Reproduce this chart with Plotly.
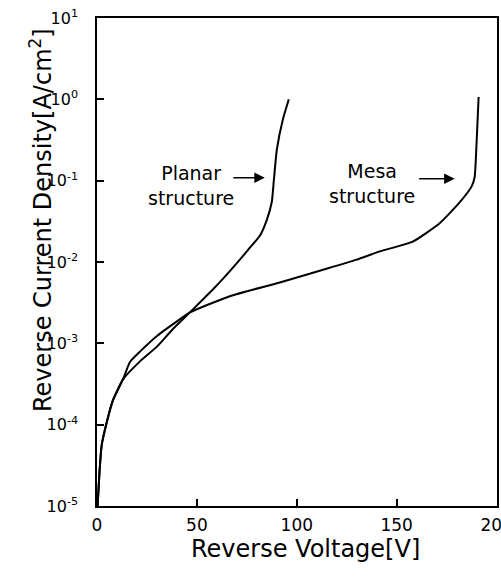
import plotly.graph_objects as go

# Planar structure curve (Reverse Voltage [V], Current density [A/cm^2])
planar_v = [0.3, 1.2, 2.3, 4, 8, 13, 21.5, 30, 38, 46.5, 58, 63, 71.5, 76, 81.5, 85, 87.5, 88.5, 90, 93, 96]
planar_j = [1.0e-5, 2.5e-5, 5.5e-5, 8.7e-5, 2.0e-4, 3.6e-4, 6.0e-4, 9.1e-4, 1.5e-3, 2.4e-3,
            4.6e-3, 6.2e-3, 1.07e-2, 1.45e-2, 2.1e-2, 3.3e-2, 5.5e-2, 1.0e-1, 2.4e-1, 5.6e-1, 1.0]

# Mesa structure curve
mesa_v = [0.3, 1.2, 2.3, 4, 8, 13, 16.5, 21.5, 30, 40, 46.5, 66.5, 91.5, 116.5, 130, 141.5, 158,
          171.5, 181.5, 187.5, 189, 190, 191]
mesa_j = [1.0e-5, 2.5e-5, 5.5e-5, 8.7e-5, 2.0e-4, 3.6e-4, 5.9e-4, 7.9e-4, 1.23e-3, 1.86e-3, 2.4e-3,
          3.8e-3, 5.6e-3, 8.5e-3, 1.07e-2, 1.35e-2, 1.78e-2, 3.0e-2, 5.4e-2, 8.5e-2, 1.1e-1, 3.0e-1, 1.07]

x_ticks = [0, 50, 100, 150, 200]
x_ticktext = ["0", "50", "100", "150", "200"]
y_ticks = [1e-5, 1e-4, 1e-3, 1e-2, 1e-1, 1e0, 1e1]
y_ticktext = ["10<sup>-5</sup>", "10<sup>-4</sup>", "10<sup>-3</sup>", "10<sup>-2</sup>",
              "10<sup>-1</sup>", "10<sup>0</sup>", "10<sup>1</sup>"]

FONT = "DejaVu Sans"

fig = go.Figure()
fig.add_trace(go.Scatter(x=planar_v, y=planar_j, mode="lines", name="Planar structure",
                         line=dict(color="black", width=2, shape="spline", smoothing=0.5)))
fig.add_trace(go.Scatter(x=mesa_v, y=mesa_j, mode="lines", name="Mesa structure",
                         line=dict(color="black", width=2, shape="spline", smoothing=0.5)))

fig.update_layout(
    width=501, height=577,
    margin=dict(l=97, r=4, t=18, b=71),
    paper_bgcolor="white", plot_bgcolor="white",
    showlegend=False,
    font=dict(family=FONT, color="black"),
    xaxis=dict(range=[0, 200.2], tickvals=x_ticks, ticktext=x_ticktext,
               ticks="inside", ticklen=7, tickwidth=1.5, tickcolor="black",
               showline=True, linecolor="black", linewidth=1.5, mirror=True,
               showgrid=False, zeroline=False, tickfont=dict(size=17, family=FONT),
               ticklabelstandoff=3, ticklabeloverflow="allow", automargin=False),
    yaxis=dict(type="log", range=[-5, 1], tickvals=y_ticks, ticktext=y_ticktext,
               ticks="inside", ticklen=7, tickwidth=1.5, tickcolor="black",
               showline=True, linecolor="black", linewidth=1.5, mirror=True,
               showgrid=False, zeroline=False, tickfont=dict(size=16, family=FONT),
               ticklabelstandoff=14, ticklabeloverflow="allow", automargin=False),
)

# Axis titles
fig.add_annotation(text="Reverse Voltage[V]", xref="paper", yref="paper", x=0.52, y=-0.088,
                   xanchor="center", yanchor="middle", showarrow=False,
                   font=dict(size=24, family=FONT))
fig.add_annotation(text="Reverse Current Density[A/cm<sup>2</sup>]", xref="paper", yref="paper",
                   x=-0.14, y=0.586, xanchor="center", yanchor="middle", textangle=-90,
                   showarrow=False, font=dict(size=24, family=FONT))

# Labels with arrows
fig.add_annotation(text="Planar<br>structure", x=47, y=-1.06, xref="x", yref="y",
                   showarrow=False, font=dict(size=19, family=FONT), align="center")
fig.add_annotation(x=84, y=-0.963, xref="x", yref="y", ax=-33, ay=0, text="",
                   showarrow=True, arrowhead=2, arrowsize=1.4, arrowwidth=1.5, arrowcolor="black")
fig.add_annotation(text="Mesa<br>structure", x=137.5, y=-1.04, xref="x", yref="y",
                   showarrow=False, font=dict(size=19, family=FONT), align="center")
fig.add_annotation(x=179, y=-0.975, xref="x", yref="y", ax=-37, ay=0, text="",
                   showarrow=True, arrowhead=2, arrowsize=1.4, arrowwidth=1.5, arrowcolor="black")

fig.write_html("out.html", config={"displayModeBar": False},
               post_script="document.body.style.margin='0';document.body.style.overflow='hidden';")
